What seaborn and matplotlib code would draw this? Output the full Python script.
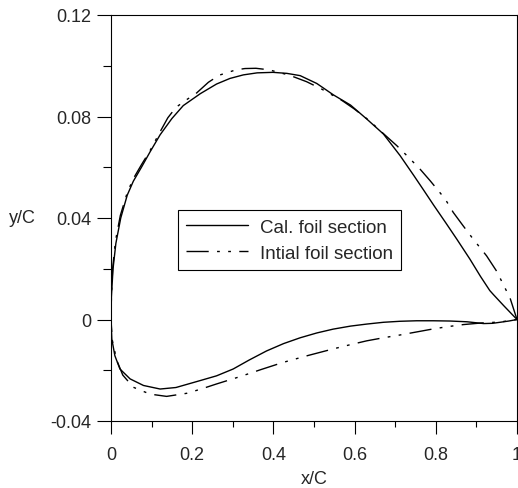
import numpy as np
import pandas as pd
import matplotlib
matplotlib.use("Agg")
import matplotlib.pyplot as plt
import seaborn as sns
from matplotlib.ticker import MultipleLocator, FixedLocator

# ---- data ----
cal_upper_x = [1.0, 0.967, 0.942, 0.933, 0.910, 0.884, 0.852, 0.825, 0.795, 0.770, 0.746, 0.712, 0.671,
               0.630, 0.590, 0.548, 0.507, 0.466, 0.433, 0.399, 0.360, 0.326, 0.293, 0.260, 0.220, 0.178,
               0.150, 0.121, 0.096, 0.075, 0.055, 0.040, 0.024, 0.012, 0.005, 0.001, 0.0]
cal_upper_y = [0.0, 0.0055, 0.0098, 0.0114, 0.0170, 0.0238, 0.0316, 0.0380, 0.0450, 0.0510, 0.0567, 0.0646, 0.0731,
               0.0790, 0.0845, 0.0885, 0.0930, 0.0961, 0.0970, 0.0974, 0.0972, 0.0964, 0.0950, 0.0928, 0.0890, 0.0843,
               0.0792, 0.0728, 0.0660, 0.0600, 0.0545, 0.0490, 0.0400, 0.0300, 0.0200, 0.0090, 0.0]
cal_lower_x = [0.0, 0.002, 0.0096, 0.022, 0.047, 0.080, 0.121, 0.160, 0.219, 0.260, 0.301, 0.340, 0.383,
               0.425, 0.466, 0.507, 0.547, 0.590, 0.630, 0.671, 0.712, 0.753, 0.794, 0.835, 0.877, 0.900,
               0.918, 0.940, 0.958, 0.980, 1.0]
cal_lower_y = [0.0, -0.0077, -0.0143, -0.0195, -0.0234, -0.0260, -0.0274, -0.0268, -0.0241, -0.0222, -0.0195, -0.0160, -0.0124,
               -0.0095, -0.0072, -0.0053, -0.0038, -0.0026, -0.0018, -0.0011, -0.0007, -0.0005, -0.0005, -0.0006, -0.0009, -0.0013,
               -0.0016, -0.0015, -0.0011, -0.0006, 0.0]

ini_upper_x = [1.0, 0.983, 0.950, 0.925, 0.892, 0.867, 0.843, 0.823, 0.786, 0.761, 0.733, 0.704, 0.663,
               0.636, 0.599, 0.570, 0.519, 0.482, 0.439, 0.389, 0.357, 0.330, 0.308, 0.267, 0.240, 0.209,
               0.185, 0.160, 0.140, 0.121, 0.096, 0.075, 0.055, 0.040, 0.023, 0.011, 0.004, 0.001, 0.0]
ini_upper_y = [0.0, 0.0084, 0.0190, 0.0251, 0.0317, 0.0370, 0.0422, 0.0475, 0.0547, 0.0593, 0.0639, 0.0685, 0.0744,
               0.0784, 0.0830, 0.0862, 0.0908, 0.0937, 0.0963, 0.0984, 0.0990, 0.0989, 0.0984, 0.0963, 0.0935, 0.0890,
               0.0865, 0.0836, 0.0795, 0.0740, 0.0665, 0.0610, 0.0555, 0.0500, 0.0410, 0.0310, 0.0200, 0.0090, 0.0]
ini_lower_x = [0.0, 0.003, 0.014, 0.029, 0.055, 0.096, 0.137, 0.186, 0.220, 0.260, 0.318, 0.370, 0.424,
               0.485, 0.547, 0.590, 0.630, 0.671, 0.712, 0.753, 0.794, 0.830, 0.868, 0.910, 0.958, 1.0]
ini_lower_y = [0.0, -0.0080, -0.0160, -0.0219, -0.0267, -0.0294, -0.0303, -0.0291, -0.0275, -0.0254, -0.0225, -0.0197, -0.0169,
               -0.0142, -0.0116, -0.0099, -0.0084, -0.0072, -0.0061, -0.0049, -0.0037, -0.0028, -0.0020, -0.0014, -0.0010, 0.0]

labels = ["Cal. foil section", "Intial foil section"]

sns.set_theme(style="ticks")
plt.rcParams['font.family'] = ['Liberation Sans', 'DejaVu Sans']
plt.rcParams['font.size'] = 13

df = pd.concat([
    pd.DataFrame({"x": cal_upper_x + cal_lower_x, "y": cal_upper_y + cal_lower_y, "series": labels[0]}),
    pd.DataFrame({"x": ini_upper_x + ini_lower_x, "y": ini_upper_y + ini_lower_y, "series": labels[1]}),
], ignore_index=True)

fig = plt.figure(figsize=(5.18, 4.89), dpi=100)
ax = fig.add_axes([111/518, 1-422/489, 406/518, 406/489])

sns.lineplot(data=df, x="x", y="y", hue="series", style="series", sort=False, estimator=None,
             palette=["black", "black"], dashes=["", (16, 6, 2, 6, 2, 6)], linewidth=1.0,
             ax=ax, legend=True)

ax.set_xlim(0, 1)
ax.set_ylim(-0.04, 0.12)
ax.xaxis.set_major_locator(FixedLocator([0, 0.2, 0.4, 0.6, 0.8, 1.0]))
ax.xaxis.set_minor_locator(MultipleLocator(0.1))
ax.yaxis.set_major_locator(FixedLocator([-0.04, 0, 0.04, 0.08, 0.12]))
ax.yaxis.set_minor_locator(MultipleLocator(0.02))
ax.set_xticklabels(["0", "0.2", "0.4", "0.6", "0.8", "1"])
ax.set_yticklabels(["-0.04", "0", "0.04", "0.08", "0.12"])
ax.tick_params(which="both", direction="out", width=0.8, color="black", labelsize=13)
ax.tick_params(axis="x", which="major", length=9, pad=9)
ax.tick_params(axis="x", which="minor", length=4)
ax.tick_params(axis="y", which="major", length=10, pad=4)
ax.tick_params(axis="y", which="minor", length=5.8)
for s in ax.spines.values():
    s.set_visible(True)
    s.set_color("black")
    s.set_linewidth(0.8)

ax.set_xlabel("x/C", fontsize=13, va="center")
ax.set_ylabel("y/C", fontsize=13, rotation=0, ha="center", va="center")
ax.xaxis.set_label_coords(0.5, (422-479)/406)
ax.yaxis.set_label_coords((22-111)/406, 0.5)

leg = ax.legend(loc="lower left", bbox_to_anchor=((178-111)/406, (422-271)/406), borderaxespad=0,
                frameon=True, fancybox=False, edgecolor="black", framealpha=1, fontsize=13.5,
                handlelength=3.3, handletextpad=0.6, borderpad=0.45, labelspacing=0.45)
leg.get_frame().set_linewidth(0.8)

fig.savefig("out.png", dpi=100)
